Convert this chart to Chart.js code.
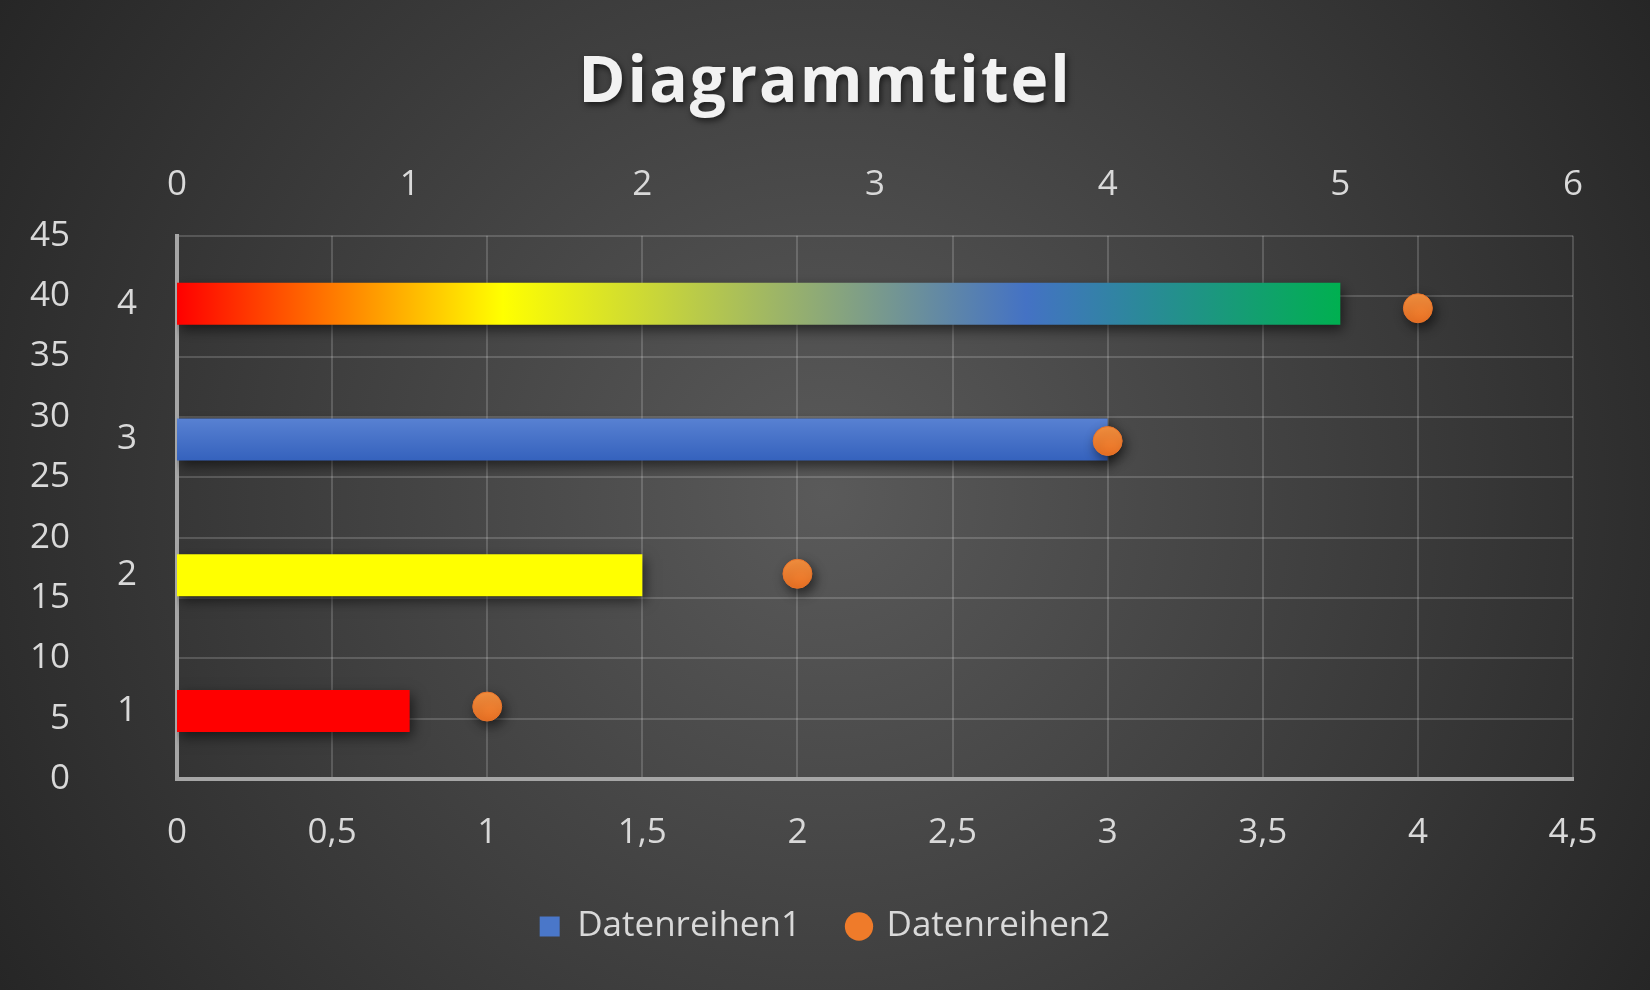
<!DOCTYPE html>
<html lang="de">
<head>
<meta charset="utf-8">
<title>Diagrammtitel</title>
<script src="https://cdn.jsdelivr.net/npm/chart.js@4.4.1/dist/chart.umd.min.js"></script>
<style>
  html, body { margin: 0; padding: 0; background: #2b2b2b; }
  #chart { display: block; }
</style>
</head>
<body>
<canvas id="chart" width="1650" height="990"></canvas>
<script>
// ---------------- data ----------------
const categories = ['1', '2', '3', '4'];
const series1 = [1, 2, 4, 5];          // Datenreihen1 -> obere Achse
const series2X = [1, 2, 3, 4];         // Datenreihen2 -> untere Achse
const series2Y = [6, 17, 28, 39];      // Datenreihen2 -> linke Achse
const seriesNames = ['Datenreihen1', 'Datenreihen2'];

const FONT = "'Open Sans', 'Liberation Sans', sans-serif";
const TEXT = '#d9d9d9';
const GRID = 'rgba(255,255,255,0.17)';
const AXIS = '#a6a6a6';

const comma = v => String(v).replace('.', ',');

// bar fills (index based, like the excel sheet)
function barFill(context) {
  const chart = context.chart;
  const area = chart.chartArea;
  const i = context.dataIndex;
  if (i === 0) return '#ff0000';
  if (i === 1) return '#ffff00';
  if (!area) return '#4472c4';
  const ctx = chart.ctx;
  if (i === 2) {
    const y = chart.scales.yCat.getPixelForValue(i);
    const g = ctx.createLinearGradient(0, y - 21, 0, y + 21);
    g.addColorStop(0, '#5881d2');
    g.addColorStop(1, '#3562bd');
    return g;
  }
  const x0 = chart.scales.xTop.getPixelForValue(0);
  const x1 = chart.scales.xTop.getPixelForValue(series1[i]);
  const g = ctx.createLinearGradient(x0, 0, x1, 0);
  g.addColorStop(0, '#ff0000');
  g.addColorStop(0.28, '#ffff00');
  g.addColorStop(0.73, '#4472c4');
  g.addColorStop(1, '#00b050');
  return g;
}

function pointFill(context) {
  const chart = context.chart;
  if (!chart.chartArea || context.dataIndex === undefined) return '#ef7b2a';
  const y = chart.scales.yLeft.getPixelForValue(series2Y[context.dataIndex]);
  const g = chart.ctx.createLinearGradient(0, y - 14, 0, y + 14);
  g.addColorStop(0, '#f4903f');
  g.addColorStop(1, '#ec7224');
  return g;
}

// ---------------- plugins ----------------
const backdrop = {
  id: 'backdrop',
  beforeDraw(chart) {
    const { ctx, width, height } = chart;
    const g = ctx.createRadialGradient(width / 2, height / 2, 0, width / 2, height / 2, Math.hypot(width, height) / 2);
    g.addColorStop(0, '#5a5a5a');
    g.addColorStop(1, '#262626');
    ctx.save();
    ctx.fillStyle = g;
    ctx.fillRect(0, 0, width, height);
    ctx.restore();
  }
};

const shadows = {
  id: 'shadows',
  beforeDatasetsDraw(chart) {
    const c = chart.ctx;
    c.save();
    c.shadowColor = 'rgba(0,0,0,0.55)';
    c.shadowBlur = 12;
    c.shadowOffsetX = 3;
    c.shadowOffsetY = 5;
  },
  afterDatasetsDraw(chart) {
    chart.ctx.restore();
  }
};

const titleStyle = {
  id: 'titleStyle',
  afterLayout(chart) {
    const block = chart.titleBlock;
    if (!block || block._styled) return;
    const draw = block.draw;
    block.draw = function () {
      const c = chart.ctx;
      c.save();
      c.letterSpacing = '2px';
      c.shadowColor = 'rgba(0,0,0,0.6)';
      c.shadowBlur = 6;
      c.shadowOffsetX = 2;
      c.shadowOffsetY = 3;
      draw.apply(this, arguments);
      c.restore();
    };
    block._styled = true;
  }
};

// ---------------- chart ----------------
const ctx = document.getElementById('chart');

new Chart(ctx, {
  type: 'bar',
  data: {
    labels: categories,
    datasets: [
      {
        type: 'bar',
        label: seriesNames[0],
        data: series1,
        indexAxis: 'y',
        xAxisID: 'xTop',
        yAxisID: 'yCat',
        backgroundColor: barFill,
        borderWidth: 0,
        grouped: false,
        maxBarThickness: 42,
        order: 2
      },
      {
        type: 'scatter',
        label: seriesNames[1],
        data: series2X.map((x, i) => ({ x: x, y: series2Y[i] })),
        xAxisID: 'xBottom',
        yAxisID: 'yLeft',
        backgroundColor: pointFill,
        borderColor: '#e8732a',
        borderWidth: 1,
        pointRadius: 14.5,
        order: 1
      }
    ]
  },
  options: {
    responsive: false,
    devicePixelRatio: 1,
    animation: false,
    events: [],
    layout: { padding: { top: 0, left: 30, right: 30, bottom: 36 } },
    scales: {
      xTop: {
        type: 'linear',
        position: 'top',
        offset: false,
        min: 0,
        max: 6,
        ticks: { stepSize: 1, color: TEXT, font: { family: FONT, size: 35 }, padding: 30 },
        grid: { display: false, drawTicks: false, offset: false },
        border: { display: false },
        afterFit(s) { s.height = 75; }
      },
      xBottom: {
        type: 'linear',
        position: 'bottom',
        offset: false,
        min: 0,
        max: 4.5,
        ticks: { stepSize: 0.5, color: TEXT, font: { family: FONT, size: 35 }, padding: 33, callback: comma },
        grid: { color: GRID, lineWidth: 2, drawTicks: false, offset: false },
        border: { display: true, color: AXIS, width: 4 },
        afterFit(s) { s.height = 82; }
      },
      yLeft: {
        type: 'linear',
        position: 'left',
        weight: 2,
        offset: false,
        min: 0,
        max: 45,
        ticks: { stepSize: 5, autoSkip: false, color: TEXT, font: { family: FONT, size: 35 }, padding: 47 },
        grid: { color: GRID, lineWidth: 2, drawTicks: false, offset: false },
        border: { display: false },
        afterFit(s) { s.width = 87; }
      },
      yCat: {
        type: 'category',
        position: 'left',
        weight: 1,
        reverse: true,
        offset: true,
        ticks: { color: TEXT, font: { family: FONT, size: 35 }, padding: 40 },
        grid: { display: false, drawTicks: false },
        border: { display: true, color: AXIS, width: 4 },
        afterFit(s) { s.width = 60; }
      },
      yPad: {
        type: 'linear',
        position: 'right',
        ticks: { display: false },
        grid: { display: false, drawTicks: false },
        border: { display: false },
        afterFit(s) { s.width = 47; }
      }
    },
    plugins: {
      title: {
        display: true,
        text: 'Diagrammtitel',
        color: '#f2f2f2',
        font: { family: FONT, size: 64, weight: 'bold' },
        padding: { top: 45, bottom: 39 }
      },
      legend: {
        position: 'bottom',
        labels: {
          color: TEXT,
          font: { family: FONT, size: 35 },
          usePointStyle: true,
          boxWidth: 20,
          boxHeight: 20,
          padding: 48,
          generateLabels(chart) {
            const items = Chart.defaults.plugins.legend.labels.generateLabels(chart);
            items.sort((a, b) => a.datasetIndex - b.datasetIndex);
            items.forEach(item => {
              const blue = item.datasetIndex === 0;
              item.fillStyle = blue ? '#4a77c9' : '#ef7b2a';
              item.strokeStyle = item.fillStyle;
              item.lineWidth = 0;
              item.pointStyle = blue ? 'rect' : 'circle';
            });
            return items;
          }
        }
      },
      tooltip: { enabled: false }
    }
  },
  plugins: [backdrop, shadows, titleStyle]
});
</script>
</body>
</html>
